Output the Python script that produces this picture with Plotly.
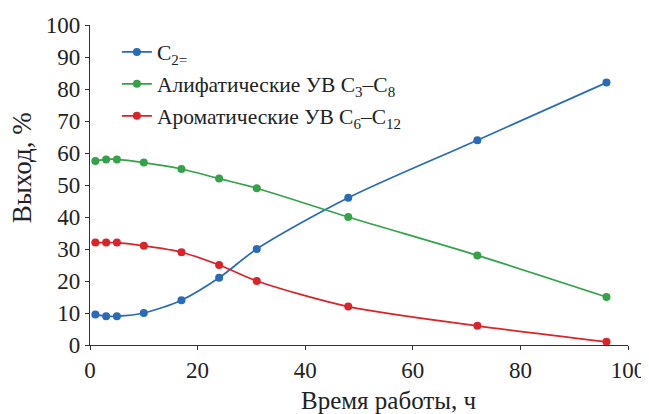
import plotly.graph_objects as go

time_h = [1, 3, 5, 10, 17, 24, 31, 48, 72, 96]
c2 = [9.5, 9, 9, 10, 14, 21, 30, 46, 64, 82]
aliphatic = [57.5, 58, 58, 57, 55, 52, 49, 40, 28, 15]
aromatic = [32, 32, 32, 31, 29, 25, 20, 12, 6, 1]

names = ["C<sub>2=</sub>",
         "Алифатические УВ C<sub>3</sub>–C<sub>8</sub>",
         "Ароматические УВ C<sub>6</sub>–C<sub>12</sub>"]
colors = ["#2a6ab8", "#35a24a", "#d8242a"]
series = [c2, aliphatic, aromatic]
x_title = "Время работы, ч"
y_title = "Выход, %"

fig = go.Figure()
for i, (nm, col, ys) in enumerate(zip(names, colors, series)):
    fig.add_trace(go.Scatter(x=time_h, y=ys, name=nm, mode="lines+markers",
                             legendgroup=f"g{i}",
                             line=dict(color=col, width=1.7, shape="spline", smoothing=0.8),
                             marker=dict(color=col, size=8)))

font = "Liberation Serif, Times New Roman, serif"
fig.update_layout(
    width=649, height=414,
    margin=dict(l=82, r=29, t=17, b=77),
    paper_bgcolor="white", plot_bgcolor="white",
    font=dict(family=font, color="#222", size=20),
    showlegend=True,
    legend=dict(x=0.05, y=0.98, xanchor="left", yanchor="top",
                font=dict(family=font, size=21.5, color="#222"),
                itemwidth=30,
                bgcolor="rgba(0,0,0,0)", tracegroupgap=1),
    xaxis=dict(range=[0, 100], tickvals=[0, 20, 40, 60, 80, 100],
               automargin=False,
               showline=True, linecolor="#333", linewidth=1.2,
               ticks="outside", ticklen=4, tickcolor="#333",
               showgrid=False, zeroline=False,
               tickfont=dict(size=23)),
    yaxis=dict(range=[0, 100], tickvals=list(range(0, 101, 10)),
               automargin=False,
               showline=True, linecolor="#333", linewidth=1.2,
               ticks="outside", ticklen=4, tickcolor="#333",
               showgrid=False, zeroline=False,
               tickfont=dict(size=23)),
    annotations=[
        dict(text=x_title, xref="paper", yref="paper", x=0.554, y=-0.172,
             xanchor="center", yanchor="middle", showarrow=False,
             font=dict(family=font, size=25, color="#222")),
        dict(text=y_title, xref="paper", yref="paper", x=-0.126, y=0.553,
             xanchor="center", yanchor="middle", showarrow=False, textangle=-90,
             font=dict(family=font, size=27, color="#222")),
    ],
)
fig.write_html("out.html")
